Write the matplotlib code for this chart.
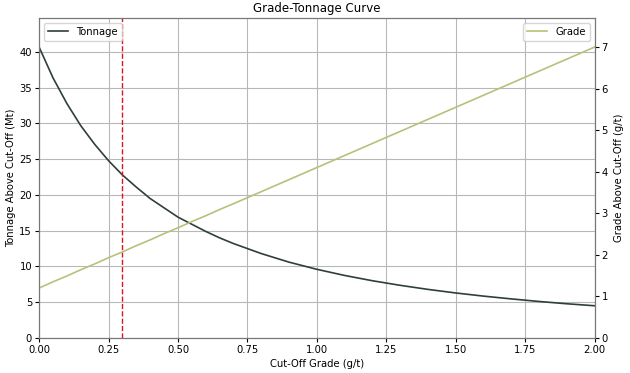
import matplotlib
matplotlib.use("Agg")
import matplotlib.pyplot as plt

# Cut-off grade (g/t)
cutoff = [0.0, 0.05, 0.1, 0.15, 0.2, 0.25, 0.3, 0.35, 0.4, 0.45, 0.5,
          0.55, 0.6, 0.65, 0.7, 0.8, 0.9, 1.0, 1.1, 1.2, 1.3, 1.4,
          1.5, 1.6, 1.7, 1.8, 1.9, 2.0]
# Tonnage above cut-off (Mt)
tonnage = [40.7, 36.4, 32.8, 29.7, 27.1, 24.8, 22.8, 21.1, 19.5, 18.2, 16.9,
           15.9, 14.9, 14.0, 13.2, 11.8, 10.6, 9.6, 8.74, 8.0, 7.36, 6.79,
           6.29, 5.85, 5.46, 5.10, 4.78, 4.5]
# Mean grade above cut-off (g/t)
grade = [1.2, 1.35, 1.49, 1.64, 1.78, 1.93, 2.07, 2.22, 2.36, 2.51, 2.65,
         2.8, 2.94, 3.09, 3.23, 3.52, 3.81, 4.1, 4.39, 4.68, 4.97, 5.26,
         5.55, 5.84, 6.13, 6.42, 6.71, 7.0]
selected_cutoff = 0.3

plt.rcParams["font.size"] = 7.2

fig = plt.figure(figsize=(6.3, 3.73), dpi=100)
ax = fig.add_axes([0.062, 0.094, 0.882, 0.858])

ax.plot(cutoff, tonnage, color="#2f3f3a", linewidth=1.2, label="Tonnage")
ax.axvline(selected_cutoff, color="#e0102a", linestyle="--", linewidth=1.0)
ax.set_xlim(0, 2.0)
ax.set_ylim(0, max(tonnage) * 1.1)
ax.set_xlabel("Cut-Off Grade (g/t)", labelpad=3)
ax.set_ylabel("Tonnage Above Cut-Off (Mt)", labelpad=2)
ax.set_title("Grade-Tonnage Curve", fontsize=8.5, pad=4)
ax.grid(True, color="#b8b8b8", linewidth=0.8)
ax.tick_params(labelsize=7.2, length=3, pad=2)
ax.legend(loc="upper left", fontsize=7.2)

ax2 = ax.twinx()
ax2.plot(cutoff, grade, color="#b9c07a", linewidth=1.2, label="Grade")
ax2.set_ylim(0, max(grade) * 1.1)
ax2.set_ylabel("Grade Above Cut-Off (g/t)", labelpad=4)
ax2.tick_params(labelsize=7.2, length=3, pad=2)
ax2.legend(loc="upper right", fontsize=7.2)

for a in (ax, ax2):
    for s in a.spines.values():
        s.set_color("#777777")

fig.savefig("out.png", dpi=100)
